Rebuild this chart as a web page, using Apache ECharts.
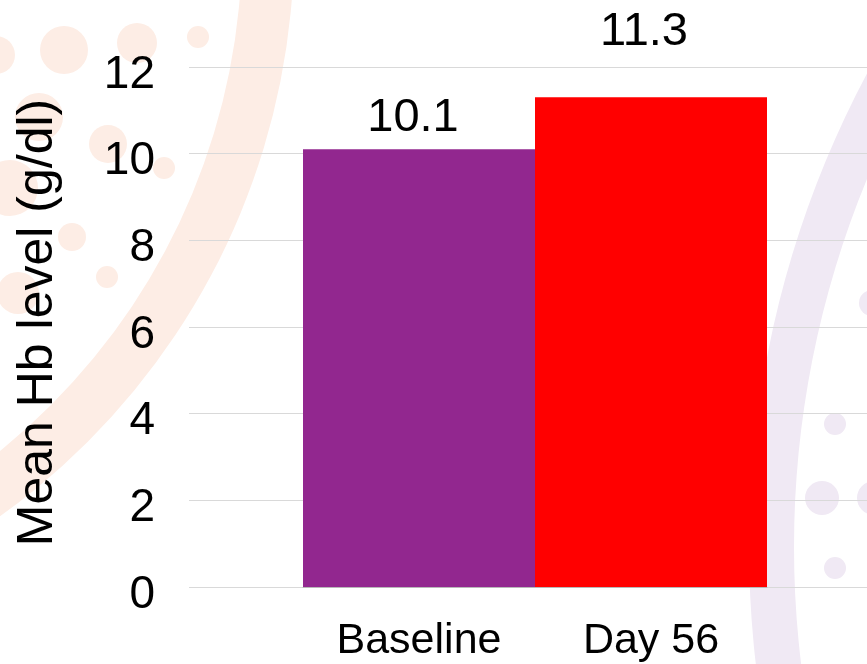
<!DOCTYPE html>
<html>
<head>
<meta charset="utf-8">
<script src="https://cdn.jsdelivr.net/npm/echarts@6/dist/echarts.min.js"></script>
<style>
  html, body { margin: 0; padding: 0; background: #ffffff; }
  #chart { width: 867px; height: 664px; }
</style>
</head>
<body>
<div id="chart"></div>
<script>
// Mean haemoglobin level at baseline and after 56 days
const categories = ['Baseline', 'Day 56'];
const hbValues = [10.1, 11.3];
const barColors = ['#92278f', '#ff0000'];
const yTicks = { min: 0, max: 12, step: 2 };
const yTitle = 'Mean Hb level (g/dl)';

const FONT = '"Liberation Sans", Arial, sans-serif';

// Soft decorative rings and dots behind the plot
const peach = '#fdede5';
const lilac = '#f0e9f4';
const peachDots = [
  [-4, 55, 19], [64, 50, 24], [137, 43, 20], [198, 37, 11],
  [39, 117, 24], [108, 144, 19], [164, 168, 11], [10, 188, 28],
  [72, 237, 14], [107, 277, 11], [18, 293, 21]
];
const lilacDots = [
  [872, 303, 13], [835, 424, 11], [822, 498, 17], [874, 498, 17], [835, 568, 11]
];
const decor = [
  { type: 'ring', z: -10, silent: true, shape: { cx: -410, cy: -56, r: 704, r0: 652 }, style: { fill: peach } },
  { type: 'ring', z: -10, silent: true, shape: { cx: 1758, cy: 547, r: 1009, r0: 964 }, style: { fill: lilac } }
];
peachDots.forEach(d => decor.push({ type: 'circle', z: -10, silent: true, shape: { cx: d[0], cy: d[1], r: d[2] }, style: { fill: peach } }));
lilacDots.forEach(d => decor.push({ type: 'circle', z: -10, silent: true, shape: { cx: d[0], cy: d[1], r: d[2] }, style: { fill: lilac } }));

// Per-bar label placement
const labelOffsets = [[-6, 0], [-7, -34]];

const chart = echarts.init(document.getElementById('chart'), null, { renderer: 'canvas' });

chart.setOption({
  animation: false,
  backgroundColor: 'transparent',
  graphic: { elements: decor },
  grid: [
    // value scale with full-width gridlines
    { left: 189, right: 0, top: 67, bottom: 77, containLabel: false, outerBoundsMode: 'none' },
    // bar band
    { left: 303, right: 100, top: 67, bottom: 77, containLabel: false, outerBoundsMode: 'none' }
  ],
  xAxis: [
    { gridIndex: 0, type: 'value', show: false },
    {
      gridIndex: 1,
      type: 'category',
      data: categories,
      z: 5,
      axisLine: { show: true, lineStyle: { color: 'rgba(0,0,0,0.15)', width: 1 } },
      axisTick: { show: false },
      axisLabel: { color: '#000', fontFamily: FONT, fontSize: 43, margin: 33 }
    }
  ],
  yAxis: [
    {
      gridIndex: 0,
      type: 'value',
      min: yTicks.min,
      max: yTicks.max,
      interval: yTicks.step,
      name: yTitle,
      nameLocation: 'middle',
      nameGap: 126,
      nameRotate: 90,
      nameTextStyle: { color: '#000', fontFamily: FONT, fontSize: 50, padding: [0, 0, 0, 9] },
      axisLine: { show: false },
      axisTick: { show: false },
      axisLabel: { color: '#000', fontFamily: FONT, fontSize: 46, margin: 34, verticalAlign: 'top', lineHeight: 16 },
      splitLine: { show: true, lineStyle: { color: '#d9d9d9', width: 1 } }
    },
    {
      gridIndex: 1,
      type: 'value',
      min: yTicks.min,
      max: yTicks.max,
      interval: yTicks.step,
      show: false,
      splitLine: { show: false }
    }
  ],
  series: [
    {
      type: 'bar',
      xAxisIndex: 1,
      yAxisIndex: 1,
      barWidth: '100%',
      data: hbValues.map((v, i) => ({
        value: v,
        itemStyle: { color: barColors[i] },
        label: { offset: labelOffsets[i] }
      })),
      label: {
        show: true,
        position: 'top',
        distance: 8,
        color: '#000',
        fontFamily: FONT,
        fontSize: 47,
        formatter: p => p.value.toFixed(1)
      }
    }
  ]
});
</script>
</body>
</html>
